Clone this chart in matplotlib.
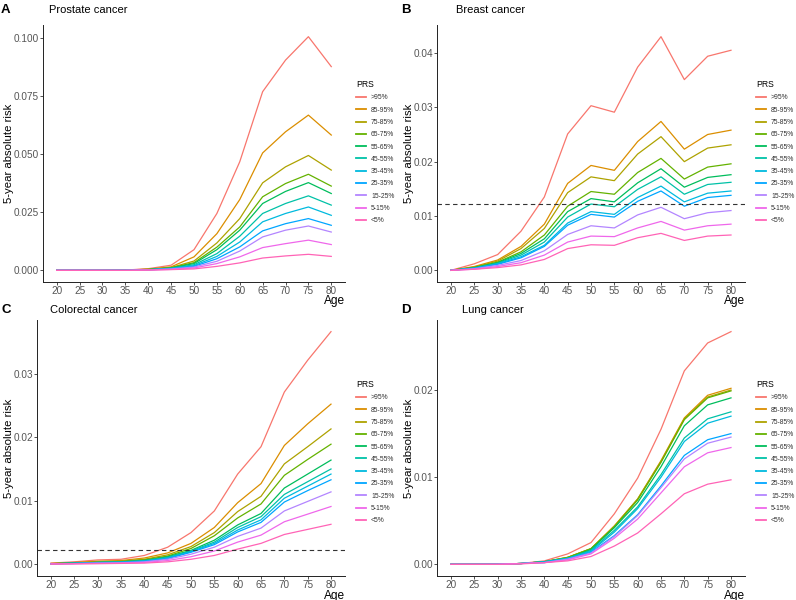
import matplotlib
matplotlib.use("Agg")
import matplotlib.pyplot as plt
from matplotlib.ticker import FixedLocator

plt.rcParams['font.family'] = ['Liberation Sans', 'DejaVu Sans']

ages = [20, 25, 30, 35, 40, 45, 50, 55, 60, 65, 70, 75, 80]
prs_labels = ['>95%', '85-95%', '75-85%', '65-75%', '55-65%', '45-55%',
              '35-45%', '25-35%', '15-25%', '5-15%', '<5%']
# ggplot2 default hue palette for 11 groups
prs_colors = ['#F8766D', '#DB8E00', '#AEA200', '#64B200', '#00BD5C', '#00C1A7',
              '#00BADE', '#00A6FF', '#B385FF', '#EF67EB', '#FF63B6']

prostate = [
    [0, 0, 0.00002, 0.0001, 0.0007, 0.0022, 0.0089, 0.0245, 0.0468, 0.0770, 0.0906, 0.1007, 0.0878],
    [0, 0, 0.00001, 0.0001, 0.0005, 0.0015, 0.0058, 0.0158, 0.0305, 0.0506, 0.0597, 0.0669, 0.0583],
    [0, 0, 0, 0.0001, 0.0004, 0.0012, 0.0040, 0.0118, 0.0223, 0.0377, 0.0446, 0.0495, 0.0432],
    [0, 0, 0, 0.0001, 0.0004, 0.0011, 0.0033, 0.0100, 0.0187, 0.0317, 0.0374, 0.0414, 0.0363],
    [0, 0, 0, 0.0001, 0.0003, 0.0010, 0.0029, 0.0089, 0.0173, 0.0288, 0.0340, 0.0378, 0.0331],
    [0, 0, 0, 0.0001, 0.0003, 0.0009, 0.0024, 0.0072, 0.0147, 0.0245, 0.0288, 0.0321, 0.0281],
    [0, 0, 0, 0, 0.0002, 0.0008, 0.0020, 0.0060, 0.0122, 0.0209, 0.0245, 0.0273, 0.0237],
    [0, 0, 0, 0, 0.0002, 0.0007, 0.0017, 0.0050, 0.0101, 0.0170, 0.0201, 0.0223, 0.0194],
    [0, 0, 0, 0, 0.0002, 0.0006, 0.0014, 0.0039, 0.0083, 0.0144, 0.0173, 0.0191, 0.0165],
    [0, 0, 0, 0, 0.0001, 0.0004, 0.0010, 0.0029, 0.0058, 0.0098, 0.0115, 0.0130, 0.0111],
    [0, 0, 0, 0, 0.0001, 0.0003, 0.0006, 0.0017, 0.0032, 0.0053, 0.0062, 0.0069, 0.0060],
]

breast = [
    [0, 0.0012, 0.0029, 0.0072, 0.0135, 0.0251, 0.0303, 0.0291, 0.0374, 0.0430, 0.0351, 0.0394, 0.0405],
    [0, 0.0007, 0.0019, 0.0044, 0.0085, 0.0160, 0.0193, 0.0184, 0.0237, 0.0274, 0.0223, 0.0250, 0.0258],
    [0, 0.0006, 0.0017, 0.0040, 0.0077, 0.0143, 0.0172, 0.0165, 0.0214, 0.0246, 0.0200, 0.0225, 0.0231],
    [0, 0.0005, 0.0015, 0.0034, 0.0065, 0.0118, 0.0145, 0.0140, 0.0180, 0.0206, 0.0168, 0.0190, 0.0196],
    [0, 0.0005, 0.0014, 0.0031, 0.0058, 0.0108, 0.0132, 0.0126, 0.0161, 0.0187, 0.0153, 0.0171, 0.0176],
    [0, 0.0004, 0.0013, 0.0028, 0.0052, 0.0098, 0.0122, 0.0117, 0.0149, 0.0172, 0.0140, 0.0158, 0.0162],
    [0, 0.0004, 0.0012, 0.0025, 0.0046, 0.0087, 0.0108, 0.0103, 0.0134, 0.0155, 0.0126, 0.0142, 0.0146],
    [0, 0.0004, 0.0011, 0.0023, 0.0044, 0.0083, 0.0103, 0.0098, 0.0127, 0.0146, 0.0118, 0.0134, 0.0138],
    [0, 0.0003, 0.0009, 0.0018, 0.0036, 0.0066, 0.0082, 0.0078, 0.0102, 0.0116, 0.0095, 0.0106, 0.0110],
    [0, 0.0002, 0.0007, 0.0014, 0.0028, 0.0052, 0.0063, 0.0062, 0.0078, 0.0090, 0.0074, 0.0082, 0.0085],
    [0, 0.0002, 0.0005, 0.0010, 0.0020, 0.0040, 0.0047, 0.0046, 0.0060, 0.0068, 0.0055, 0.0063, 0.0065],
]

colorectal = [
    [0.0002, 0.0004, 0.0007, 0.0008, 0.0014, 0.0027, 0.0050, 0.0084, 0.0142, 0.0185, 0.0271, 0.0321, 0.0366],
    [0.00015, 0.0003, 0.0005, 0.0006, 0.0010, 0.0018, 0.0033, 0.0058, 0.0097, 0.0127, 0.0187, 0.0221, 0.0252],
    [0.00012, 0.00025, 0.0004, 0.0005, 0.0008, 0.0015, 0.0028, 0.0050, 0.0083, 0.0107, 0.0158, 0.0185, 0.0213],
    [0.0001, 0.0002, 0.00035, 0.00045, 0.0007, 0.0013, 0.0025, 0.0045, 0.0073, 0.0095, 0.0140, 0.0165, 0.0189],
    [0.0001, 0.0002, 0.0003, 0.0004, 0.0006, 0.0012, 0.0022, 0.0038, 0.0062, 0.0080, 0.0120, 0.0142, 0.0164],
    [0.0001, 0.0002, 0.0003, 0.0004, 0.0006, 0.0011, 0.0021, 0.0035, 0.0058, 0.0075, 0.0110, 0.0130, 0.0150],
    [0.0001, 0.00015, 0.0003, 0.00035, 0.0005, 0.0010, 0.0020, 0.0033, 0.0054, 0.0070, 0.0104, 0.0123, 0.0142],
    [0.0001, 0.00015, 0.00025, 0.0003, 0.0005, 0.0009, 0.0019, 0.0031, 0.0051, 0.0066, 0.0098, 0.0116, 0.0133],
    [0.00008, 0.00012, 0.0002, 0.00025, 0.0004, 0.0008, 0.0016, 0.0027, 0.0044, 0.0057, 0.0084, 0.0099, 0.0114],
    [0.00006, 0.0001, 0.00015, 0.0002, 0.0003, 0.0006, 0.0012, 0.0021, 0.0035, 0.0046, 0.0067, 0.0079, 0.0091],
    [0.00004, 0.00008, 0.0001, 0.00015, 0.0002, 0.0004, 0.0008, 0.0014, 0.0024, 0.0033, 0.0047, 0.0055, 0.0063],
]

lung = [
    [0, 0, 0.00002, 0.0001, 0.0004, 0.0012, 0.0025, 0.0058, 0.0099, 0.0155, 0.0222, 0.0254, 0.0267],
    [0, 0, 0.00001, 0.0001, 0.0003, 0.0008, 0.0018, 0.0044, 0.0075, 0.0119, 0.0168, 0.0194, 0.0202],
    [0, 0, 0.00001, 0.0001, 0.0003, 0.0008, 0.0018, 0.0044, 0.0075, 0.0118, 0.0167, 0.0192, 0.0200],
    [0, 0, 0.00001, 0.0001, 0.0003, 0.0008, 0.0018, 0.0043, 0.0074, 0.0117, 0.0166, 0.0191, 0.0199],
    [0, 0, 0.00001, 0.0001, 0.0003, 0.0007, 0.0017, 0.0042, 0.0071, 0.0112, 0.0159, 0.0183, 0.0191],
    [0, 0, 0.00001, 0.0001, 0.0003, 0.0007, 0.0016, 0.0039, 0.0066, 0.0103, 0.0145, 0.0167, 0.0175],
    [0, 0, 0.00001, 0.0001, 0.0003, 0.0007, 0.0015, 0.0037, 0.0064, 0.0100, 0.0141, 0.0162, 0.0170],
    [0, 0, 0.00001, 0.0001, 0.0002, 0.0006, 0.0014, 0.0033, 0.0057, 0.0090, 0.0125, 0.0143, 0.0150],
    [0, 0, 0.00001, 0.0001, 0.0002, 0.0006, 0.0013, 0.0032, 0.0056, 0.0088, 0.0121, 0.0139, 0.0146],
    [0, 0, 0.00001, 0.0001, 0.0002, 0.0005, 0.0012, 0.0030, 0.0052, 0.0082, 0.0112, 0.0128, 0.0134],
    [0, 0, 0, 0.00005, 0.0002, 0.0004, 0.0009, 0.0021, 0.0036, 0.0058, 0.0081, 0.0092, 0.0097],
]

breast_threshold = 0.0122
colorectal_threshold = 0.0022

W, H = 796, 600


def px_axes(fig, left, top, right, bottom):
    """ Add axes from pixel box (origin top-left) """
    return fig.add_axes([left / W, 1 - bottom / H, (right - left) / W, (bottom - top) / H])


def draw_panel(fig, box, letter, title, risk, yticks, fmt, threshold=None, origin=(0, 0)):
    """ One ggplot-like panel with its own legend """
    ax = px_axes(fig, *box)
    for vals, lab, col in zip(risk, prs_labels, prs_colors):
        ax.plot(ages, vals, color=col, lw=0.9, label=lab)
    if threshold is not None:
        ax.axhline(threshold, color='#333333', lw=0.8, ls=(0, (4, 3)))

    ymax = max(max(v) for v in risk)
    ax.set_xlim(17, 83)
    ax.set_ylim(-0.05 * ymax, 1.05 * ymax)
    ax.set_xticks(ages)
    ax.yaxis.set_major_locator(FixedLocator(yticks))
    ax.set_yticklabels([fmt.format(t) for t in yticks])

    for s in ['top', 'right']:
        ax.spines[s].set_visible(False)
    for s in ['left', 'bottom']:
        ax.spines[s].set_color('#222222')
        ax.spines[s].set_linewidth(0.7)
    ax.tick_params(axis='both', length=2, width=0.6, color='#333333',
                   labelsize=7.2, labelcolor='#555555', pad=1)

    ox, oy = origin
    ax.set_ylabel('5-year absolute risk', fontsize=8.2)
    ax.yaxis.set_label_coords((ox + 14) / W, 1 - (box[1] + box[3]) / 2 / H,
                              transform=fig.transFigure)
    ax.set_xlabel('Age', fontsize=8.6, loc='right')
    ax.xaxis.set_label_coords(box[2] / W, 1 - (box[3] + 13.5) / H,
                              transform=fig.transFigure)

    fig.text((ox + 1) / W, 1 - (oy + 10) / H, letter, fontsize=9.5,
             fontweight='bold', va='center', ha='left')
    fig.text((ox + title[1]) / W, 1 - (oy + 10) / H, title[0], fontsize=8,
             va='center', ha='left')

    leg = ax.legend(loc='upper left', bbox_to_anchor=((ox + 356) / W, 1 - (oy + 80) / H),
                    bbox_transform=fig.transFigure, frameon=False, fontsize=4.9,
                    title='PRS', title_fontsize=6.2, handlelength=1.45,
                    handletextpad=0.75, labelspacing=0.78, borderpad=0, borderaxespad=0)
    leg._legend_box.align = 'left'
    for line in leg.get_lines():
        line.set_linewidth(1.3)
    for t in leg.get_texts():
        t.set_color('#333333')
    return ax


fig = plt.figure(figsize=(W / 100, H / 100), dpi=100)

draw_panel(fig, (43, 25, 345, 282), 'A', ('Prostate cancer', 49), prostate,
           [0, 0.025, 0.05, 0.075, 0.1], '{:.3f}', origin=(0, 0))
draw_panel(fig, (437, 25, 745, 282), 'B', ('Breast cancer', 56), breast,
           [0, 0.01, 0.02, 0.03, 0.04], '{:.2f}', breast_threshold, origin=(400, 0))
draw_panel(fig, (37, 320, 345, 576), 'C', ('Colorectal cancer', 50), colorectal,
           [0, 0.01, 0.02, 0.03], '{:.2f}', colorectal_threshold, origin=(0, 300))
draw_panel(fig, (437, 320, 745, 576), 'D', ('Lung cancer', 62), lung,
           [0, 0.01, 0.02], '{:.2f}', origin=(400, 300))

fig.savefig('out.png', dpi=100)
plt.close()
